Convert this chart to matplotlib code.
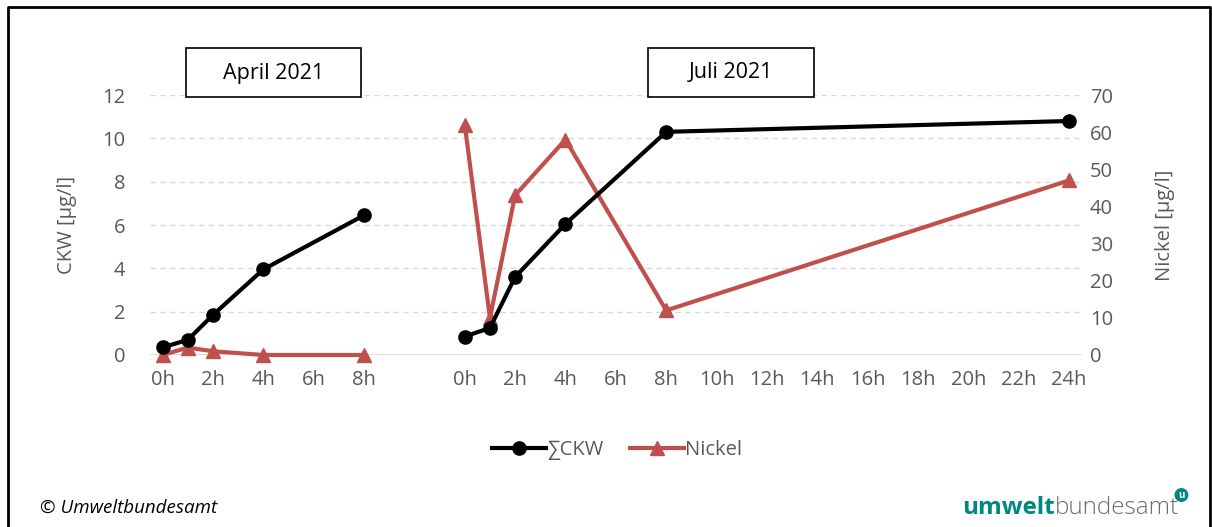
import matplotlib
matplotlib.use("Agg")
import matplotlib.pyplot as plt
from matplotlib.lines import Line2D
from matplotlib.patches import Rectangle

plt.rcParams['font.family'] = ['Open Sans', 'DejaVu Sans']

# Daten
april_h = [0, 1, 2, 4, 8]
april_ckw = [0.35, 0.7, 1.85, 3.95, 6.45]
april_ni = [0, 2, 1, 0, 0]

juli_h = [0, 1, 2, 4, 8, 24]
juli_ckw = [0.85, 1.25, 3.6, 6.05, 10.3, 10.8]
juli_ni = [62, 10, 43, 58, 12, 47]

JULI_OFFSET = 12  # Juli-Reihe rechts neben April
april_ticks = [0, 2, 4, 6, 8]
juli_ticks = [0, 2, 4, 6, 8, 10, 12, 14, 16, 18, 20, 22, 24]

BLACK = "#000000"
RED = "#C0504D"
GREY = "#595959"
FS = 14.5

fig = plt.figure(figsize=(12.12, 5.27), dpi=100)
ax = fig.add_axes([0.1238, 0.3264, 0.7686, 0.4933])
ax2 = ax.twinx()

ax.set_xlim(-0.5, 36.5)
ax.set_ylim(0, 12)
ax2.set_ylim(0, 70)
ax.set_yticks(range(0, 13, 2))
ax2.set_yticks(range(0, 71, 10))

for a in (ax, ax2):
    for s in a.spines.values():
        s.set_visible(False)
    a.tick_params(length=0, labelsize=FS, colors=GREY)
ax.tick_params(axis='y', pad=18)
ax2.tick_params(axis='y', pad=6)

# Gitter
for yv in range(2, 13, 2):
    ax.axhline(yv, color="#D9D9D9", lw=1, ls=(0, (4, 3)), zorder=0)
ax.axhline(0, color="#D9D9D9", lw=1.3, zorder=0)

xpos = april_ticks + [t + JULI_OFFSET for t in juli_ticks]
xlab = ["%dh" % t for t in april_ticks] + ["%dh" % t for t in juli_ticks]
ax.set_xticks(xpos)
ax.set_xticklabels(xlab)
ax.tick_params(axis='x', pad=11)

ax.set_ylabel("CKW [µg/l]", fontsize=FS, color=GREY, labelpad=18)
ax2.set_ylabel("Nickel [µg/l]", fontsize=FS, color=GREY, labelpad=30)

# Kurven
jx = [h + JULI_OFFSET for h in juli_h]
ax2.plot(april_h, april_ni, color=RED, lw=3, marker='^', ms=10, zorder=3, clip_on=False)
ax2.plot(jx, juli_ni, color=RED, lw=3, marker='^', ms=10, zorder=3, clip_on=False)
ax2.plot(april_h, [v * 70 / 12 for v in april_ckw],
         color=BLACK, lw=3, marker='o', ms=9.5, zorder=4, clip_on=False)
ax2.plot(jx, [v * 70 / 12 for v in juli_ckw],
         color=BLACK, lw=3, marker='o', ms=9.5, zorder=4, clip_on=False)

# Titelkästen
for x0, x1, txt in [(186, 361, "April 2021"), (648, 814, "Juli 2021")]:
    fig.patches.append(Rectangle((x0 / 1212, 1 - 97 / 527), (x1 - x0) / 1212, 49 / 527,
                                 transform=fig.transFigure, fill=True, facecolor="white",
                                 edgecolor="black", lw=1.2, zorder=5))
    fig.text((x0 + x1) / 2 / 1212, 1 - 73 / 527, txt, ha='center', va='center',
             fontsize=15.5, color="black", zorder=6)

# Legende
handles = [Line2D([], [], color=BLACK, lw=3, marker='o', ms=9.5),
           Line2D([], [], color=RED, lw=3, marker='^', ms=10)]
fig.legend(handles, ["∑CKW", "Nickel"], loc='center', bbox_to_anchor=(0.509, 1 - 450 / 527),
           ncol=2, frameon=False, fontsize=FS, labelcolor=GREY, handlelength=2.7,
           handletextpad=0.05, columnspacing=1.3)

# Rahmen
fig.add_artist(Line2D([8 / 1212, 8 / 1212, 1210 / 1212, 1210 / 1212],
                      [-0.01, 1 - 7 / 527, 1 - 7 / 527, -0.01],
                      transform=fig.transFigure, color="black", lw=2))

fig.text(40 / 1212, 1 - 508 / 527, "© Umweltbundesamt", fontsize=13.5, style='italic',
         color="black", va='center')
t1 = fig.text(962 / 1212, 1 - 508 / 527, "umwelt", fontsize=17.5, weight='bold',
              color="#00877F", va='center')
fig.canvas.draw()
bb = t1.get_window_extent()
t2 = fig.text(bb.x1 / 1212, 1 - 508 / 527, "bundesamt", fontsize=17.5, color="#6E6E6E",
              va='center', fontweight='light')
fig.canvas.draw()
bb2 = t2.get_window_extent()
fig.text(bb2.x1 / 1212 + 0.002, 1 - 495 / 527, "u", fontsize=7, weight='bold', color="white",
         ha='center', va='center',
         bbox=dict(boxstyle='circle,pad=0.15', fc="#00877F", ec="none"))

fig.savefig("out.png", dpi=100)
